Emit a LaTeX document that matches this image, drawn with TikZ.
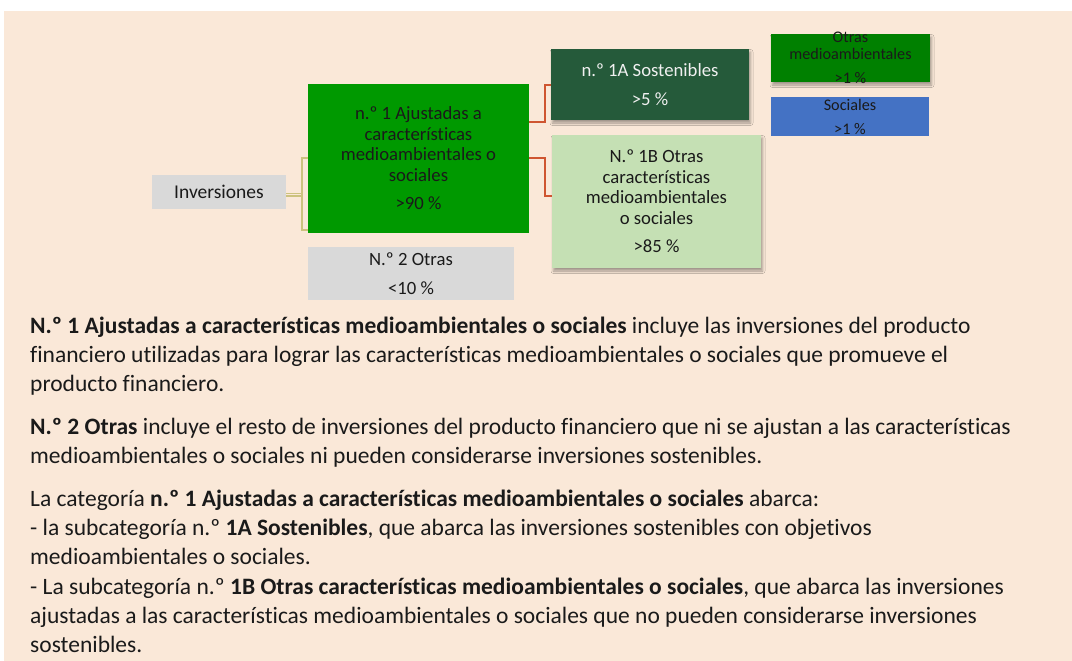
\documentclass[tikz,border=0pt]{standalone}
\usepackage{fontspec}
\setmainfont{Carlito}[Ligatures=NoCommon]
\usetikzlibrary{shadows.blur}
\definecolor{bg}{HTML}{FAE8D8}
\definecolor{grayb}{HTML}{D9D9D9}
\definecolor{greenA}{HTML}{009900}
\definecolor{darkgreen}{HTML}{255A3A}
\definecolor{lightgreen}{HTML}{C5E0B4}
\definecolor{greenB}{HTML}{008000}
\definecolor{blueS}{HTML}{4472C4}
\definecolor{olivec}{HTML}{CCC27E}
\definecolor{redc}{HTML}{CF5530}
\definecolor{txt}{HTML}{1A1A1A}
\tikzset{
  box/.style={inner sep=0pt, outer sep=0pt, align=center, text=txt,
    font=\fontsize{18.7}{20.5}\selectfont},
  smallbox/.style={inner sep=0pt, outer sep=0pt, align=center, text=txt,
    font=\fontsize{16.2}{17.5}\selectfont},
  shad/.style={blur shadow={shadow xshift=1.5pt, shadow yshift=-3pt,
    shadow blur radius=2.5pt, shadow opacity=35}},
  olivecon/.style={draw=olivec, line width=1.2pt},
  redcon/.style={draw=redc, line width=1.6pt},
  body/.style={anchor=base west, inner sep=0pt, text=txt,
    font=\fontsize{23.5}{29}\selectfont}
}
\begin{document}
\begin{tikzpicture}[x=1pt,y=-1pt]
\useasboundingbox (0,0) rectangle (1072,661);
\fill[bg] (4,11) rectangle (1072,661);

% boxes
\node[box, fill=grayb, minimum width=134pt, minimum height=34pt,
  font=\fontsize{19.5}{21}\selectfont] (inv) at (219,192) {Inversiones};
\node[box, fill=greenA, minimum width=221pt, minimum height=149pt] (b1) at (418.5,158.5)
  {n.º 1 Ajustadas a\\características\\medioambientales o\\sociales\\[8pt]>90 \%};
\node[box, fill=grayb, minimum width=206pt, minimum height=53pt] (b2) at (411,273.5)
  {N.º 2 Otras\\[8pt]<10 \%};
\node[box, shad, fill=darkgreen, text=white!94!black, minimum width=198pt, minimum height=71pt] (b1a) at (650,84.5)
  {n.º 1A Sostenibles\\[8pt]>5 \%};
\node[box, shad, fill=lightgreen, minimum width=209pt, minimum height=133pt] (b1b) at (656.5,201.5)
  {N.º 1B Otras\\características\\medioambientales\\o sociales\\[8pt]>85 \%};
\node[smallbox, shad, fill=greenB, minimum width=159pt, minimum height=48pt] (om) at (850.5,58) {};
\node[smallbox] (omt) at (om.center) {Otras\\medioambientales\\[6.5pt]>1 \%};
\node[smallbox, fill=blueS, minimum width=158pt, minimum height=39pt] (soc) at (850,116.5) {};
\node[smallbox] (soct) at (soc.center) {Sociales\\[6.5pt]>1 \%};

% connectors
\coordinate (bt) at (302,158);
\coordinate (bb) at (302,230);
\draw[olivecon, double=bg, double distance=1.6pt] ([yshift=-2.5pt]inv.east) -- ([yshift=-2.5pt]inv.east -| bt);
\draw[olivecon] (b1.west |- bt) -- (bt) -- (bb) -- (b1.west |- bb);

\coordinate (ra) at (545,122);
\coordinate (rb) at (545,85);
\coordinate (rc) at (545,158);
\coordinate (rd) at (545,196);
\draw[redcon] (b1.east |- ra) -- (ra) -- (rb) -- (b1a.west |- rb);
\draw[redcon] (b1.east |- rc) -- (rc) -- (rd) -- (b1b.west |- rd);

% body text
\node[body] (t1) at (30,333) {\textbf{N.º 1 Ajustadas a características medioambientales o sociales} incluye las inversiones del producto};
\node[body] (t2) at (30,362) {financiero utilizadas para lograr las características medioambientales o sociales que promueve el};
\node[body] (t3) at (30,391) {producto financiero.};
\node[body] (t4) at (30,434) {\textbf{N.º 2 Otras} incluye el resto de inversiones del producto financiero que ni se ajustan a las características};
\node[body] (t5) at (30,463) {medioambientales o sociales ni pueden considerarse inversiones sostenibles.};
\node[body] (t6) at (30,506) {La categoría \textbf{n.º 1 Ajustadas a características medioambientales o sociales} abarca:};
\node[body] (t7) at (30,535) {- la subcategoría n.º \textbf{1A Sostenibles}, que abarca las inversiones sostenibles con objetivos};
\node[body] (t8) at (30,564) {medioambientales o sociales.};
\node[body] (t9) at (30,594) {- La subcategoría n.º \textbf{1B Otras características medioambientales o sociales}, que abarca las inversiones};
\node[body] (t10) at (30,623) {ajustadas a las características medioambientales o sociales que no pueden considerarse inversiones};
\node[body] (t11) at (30,652) {sostenibles.};
\end{tikzpicture}
\end{document}
